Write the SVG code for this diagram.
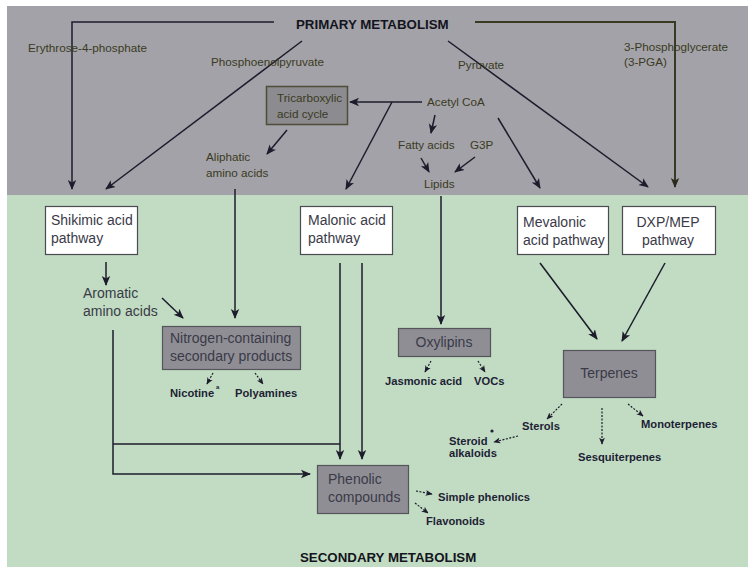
<svg xmlns="http://www.w3.org/2000/svg" width="748" height="569" viewBox="0 0 748 569">
<defs>
<marker id="ah" markerUnits="userSpaceOnUse" markerWidth="10" markerHeight="10" viewBox="0 0 10 10" refX="9" refY="5" orient="auto">
<path d="M0,0.8 L10,5 L0,9.2 L2.5,5 z" fill="#1c1c2c"/>
</marker>
<marker id="ahs" markerUnits="userSpaceOnUse" markerWidth="7" markerHeight="7" viewBox="0 0 10 10" refX="9" refY="5" orient="auto">
<path d="M0,0.8 L10,5 L0,9.2 L2.5,5 z" fill="#1c1c2c"/>
</marker>
<marker id="aho" markerUnits="userSpaceOnUse" markerWidth="10" markerHeight="10" viewBox="0 0 10 10" refX="9" refY="5" orient="auto">
<path d="M0,0.8 L10,5 L0,9.2 L2.5,5 z" fill="#2a2a1c"/>
</marker>
</defs>
<style>
text{font-family:"Liberation Sans",Arial,sans-serif;}
.pt{font-size:11.7px;fill:#3a3a22;}
.st{font-size:14px;fill:#3a3a48;}
.bl{font-size:11.2px;font-weight:bold;fill:#1e1e36;}
.hd{font-size:13.3px;font-weight:bold;fill:#141420;}
.wb{fill:#ffffff;stroke:#4a4a52;stroke-width:1.2;}
.gb{fill:#8f8e94;stroke:#55555c;stroke-width:1.2;}
.ln{fill:none;stroke:#1c1c2c;stroke-width:1.5;}
.lo{fill:none;stroke:#3a3a24;stroke-width:2;}
.dl{fill:none;stroke:#1c1c2c;stroke-width:1.2;stroke-dasharray:2,1.5;}
</style>
<rect x="0" y="0" width="748" height="569" fill="#ffffff"/>
<rect x="7" y="6" width="741" height="189" fill="#a3a2a8"/>
<rect x="7" y="195" width="741" height="372" fill="#c1dcc2"/>

<g id="connectors">
<path class="ln" d="M274,22 H72 V189" marker-end="url(#ah)"/>
<path class="lo" d="M475,22 H675 V187" marker-end="url(#aho)"/>
<path class="ln" d="M302,41 L106,189" marker-end="url(#ah)"/>
<path class="ln" d="M448,41 L648,187" marker-end="url(#ah)"/>
<path class="ln" d="M422,102 H350" marker-end="url(#ah)"/>
<path class="ln" d="M392,102 L346,189" marker-end="url(#ah)"/>
<path class="ln" d="M287,130 L267,154" marker-end="url(#ah)"/>
<path class="ln" d="M435,115 L431,133" marker-end="url(#ah)"/>
<path class="ln" d="M421,158 L429,172" marker-end="url(#ah)"/>
<path class="ln" d="M475,157 L455,172" marker-end="url(#ah)"/>
<path class="ln" d="M498,118 L540,188" marker-end="url(#ah)"/>
<path class="ln" d="M235,189 V318" marker-end="url(#ah)"/>
<path class="ln" d="M441,196 V324" marker-end="url(#ah)"/>
<path class="ln" d="M106,262 V285" marker-end="url(#ah)"/>
<path class="ln" d="M162,298 L183,318" marker-end="url(#ah)"/>
<path class="ln" d="M340,263 V459" marker-end="url(#ah)"/>
<path class="ln" d="M362,263 V459" marker-end="url(#ah)"/>
<path class="ln" d="M113,330 V474 H310" marker-end="url(#ah)"/>
<path class="ln" d="M113,444 H340"/>
<path class="ln" d="M540,263 L597,339" marker-end="url(#ah)"/>
<path class="ln" d="M665,263 L622,341" marker-end="url(#ah)"/>
<path class="dl" d="M213,373 L207,384" marker-end="url(#ahs)"/>
<path class="dl" d="M255,373 L263,384" marker-end="url(#ahs)"/>
<path class="dl" d="M431,361 L425,372" marker-end="url(#ahs)"/>
<path class="dl" d="M478,361 L485,372" marker-end="url(#ahs)"/>
<path class="dl" d="M562,404 L547,419" marker-end="url(#ahs)"/>
<path class="dl" d="M518,436 L494,442" marker-end="url(#ahs)"/>
<path class="dl" d="M602,408 V444" marker-end="url(#ahs)"/>
<path class="dl" d="M628,404 L643,416" marker-end="url(#ahs)"/>
<path class="dl" d="M416,491 L432,494" marker-end="url(#ahs)"/>
<path class="dl" d="M415,503 L428,513" marker-end="url(#ahs)"/>
<circle cx="492" cy="431" r="1.6" fill="#1e1e36"/>
</g>

<g id="primary-metabolism"><text class="hd" x="296" y="29">PRIMARY METABOLISM</text></g>
<g id="secondary-metabolism"><text class="hd" x="300" y="562">SECONDARY METABOLISM</text></g>

<g id="erythrose"><text class="pt" x="28" y="52">Erythrose-4-phosphate</text></g>
<g id="pep"><text class="pt" x="211" y="66">Phosphoenolpyruvate</text></g>
<g id="pyruvate"><text class="pt" x="458" y="69">Pyruvate</text></g>
<g id="pga"><text class="pt" x="624" y="51">3-Phosphoglycerate</text><text class="pt" x="624" y="66">(3-PGA)</text></g>

<g id="tca">
<rect x="266.5" y="86.5" width="81" height="38" fill="#8c8b90" stroke="#4e4e38" stroke-width="1.5"/>
<text class="pt" x="277" y="102">Tricarboxylic</text>
<text class="pt" x="277" y="118">acid cycle</text>
</g>
<g id="acetyl"><text class="pt" x="427" y="106">Acetyl CoA</text></g>
<g id="fatty"><text class="pt" x="398" y="149">Fatty acids</text></g>
<g id="g3p"><text class="pt" x="470" y="149">G3P</text></g>
<g id="lipids"><text class="pt" x="424" y="188">Lipids</text></g>
<g id="aliphatic"><text class="pt" x="206" y="161">Aliphatic</text><text class="pt" x="206" y="177">amino acids</text></g>

<g id="shikimic">
<rect class="wb" x="45.5" y="206.5" width="92" height="48"/>
<text class="st" x="51" y="225">Shikimic acid</text>
<text class="st" x="51" y="243">pathway</text>
</g>
<g id="aromatic"><text class="st" x="83" y="298">Aromatic</text><text class="st" x="83" y="316">amino acids</text></g>
<g id="nitrogen">
<rect class="gb" x="162.5" y="326.5" width="138" height="43"/>
<text class="st" x="170" y="343">Nitrogen-containing</text>
<text class="st" x="170" y="361">secondary products</text>
</g>
<g id="nicotine"><text class="bl" x="170" y="397">Nicotine</text><text class="bl" x="216" y="389" style="font-size:6px">a</text></g>
<g id="polyamines"><text class="bl" x="235" y="397">Polyamines</text></g>

<g id="malonic">
<rect class="wb" x="300.5" y="206.5" width="92" height="48"/>
<text class="st" x="308" y="225">Malonic acid</text>
<text class="st" x="308" y="243">pathway</text>
</g>
<g id="oxylipins">
<rect class="gb" x="398.5" y="328.5" width="92" height="28"/>
<text class="st" x="444" y="347" text-anchor="middle">Oxylipins</text>
</g>
<g id="jasmonic"><text class="bl" x="385" y="385">Jasmonic acid</text></g>
<g id="vocs"><text class="bl" x="474" y="385">VOCs</text></g>

<g id="mevalonic">
<rect class="wb" x="517.5" y="206.5" width="91" height="48"/>
<text class="st" x="523" y="227">Mevalonic</text>
<text class="st" x="523" y="245">acid pathway</text>
</g>
<g id="dxp">
<rect class="wb" x="622.5" y="206.5" width="93" height="48"/>
<text class="st" x="668" y="227" text-anchor="middle">DXP/MEP</text>
<text class="st" x="668" y="245" text-anchor="middle">pathway</text>
</g>
<g id="terpenes">
<rect class="gb" x="563.5" y="350.5" width="92" height="47"/>
<text class="st" x="609" y="378" text-anchor="middle">Terpenes</text>
</g>
<g id="sterols"><text class="bl" x="522" y="430">Sterols</text></g>
<g id="steroid-alkaloids"><text class="bl" x="449" y="445">Steroid</text><text class="bl" x="449" y="457">alkaloids</text></g>
<g id="sesquiterpenes"><text class="bl" x="578" y="461">Sesquiterpenes</text></g>
<g id="monoterpenes"><text class="bl" x="641" y="428">Monoterpenes</text></g>

<g id="phenolic">
<rect class="gb" x="317.5" y="465.5" width="91" height="48"/>
<text class="st" x="328" y="484">Phenolic</text>
<text class="st" x="328" y="502">compounds</text>
</g>
<g id="simple-phenolics"><text class="bl" x="438" y="501">Simple phenolics</text></g>
<g id="flavonoids"><text class="bl" x="426" y="525">Flavonoids</text></g>
</svg>
